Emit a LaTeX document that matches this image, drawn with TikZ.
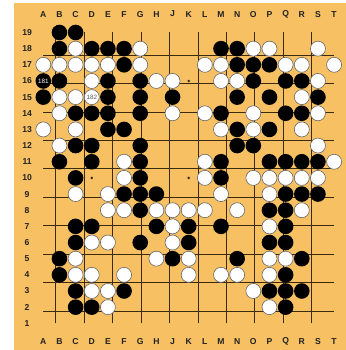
\documentclass[tikz,border=0pt]{standalone}
\usepackage{fontspec}
\setmainfont{Liberation Sans}
\usepackage{tikz}

\definecolor{boardcolor}{HTML}{F6C063}
\definecolor{gridcolor}{HTML}{3A2A12}
\definecolor{labelcolor}{HTML}{222222}

\tikzset{
  blackstone/.style={circle,fill=black,inner sep=0pt,minimum size=15.6pt},
  whitestone/.style={circle,fill=white,draw=gray!80!black,line width=0.6pt,inner sep=0pt,minimum size=15pt},
  boardlabel/.style={text=labelcolor,font=\fontsize{8.6}{9}\selectfont\bfseries},
  movelabel/.style={font=\fontsize{6.3}{7}\selectfont}
}

\begin{document}
\begin{tikzpicture}[x=16.16pt,y=16.16pt]

% Fix the picture size
\useasboundingbox (-1.6795,-0.652) rectangle (19.732,21.011);

% Draw the board
\fill[boardcolor] (-0.813,-0.652) rectangle (19.732,20.807);

% Name the points and label the edges
\foreach \l [count=\i] in {A,B,C,D,E,F,G,H,J,K,L,M,N,O,P,Q,R,S,T} {
  \foreach \r in {1,...,19} \coordinate (\l\r) at (\i,\r);
  \node[boardlabel] (top\l) at (\i,20.14) {\l};
  \node[boardlabel] (bot\l) at (\i,-0.14) {\l};
}
\foreach \r in {1,...,19} \node[boardlabel] (row\r) at (0,\r) {\r};

% Draw the grid
\draw[gridcolor,line width=0.6pt] (1,1) grid (19,19);

% Star points
\foreach \p in {D4,K4,Q4,D10,K10,Q10,D16,K16,Q16} \fill[gridcolor] (\p) circle (1.4pt);

% Black stones
\foreach \p in {B19,C19,
  B18,D18,E18,F18,M18,N18,
  F17,N17,O17,P17,
  A16,B16,E16,G16,O16,Q16,R16,
  A15,E15,G15,J15,N15,P15,S15,
  C14,D14,E14,G14,M14,Q14,R14,
  E13,F13,N13,P13,
  C12,D12,G12,N12,O12,
  B11,D11,G11,M11,P11,Q11,R11,S11,
  C10,G10,M10,
  F9,G9,H9,Q9,R9,S9,
  G8,P8,Q8,
  C7,D7,H7,K7,M7,Q7,
  C6,G6,K6,P6,Q6,
  B5,J5,N5,R5,
  B4,Q4,
  C3,F3,P3,Q3,R3,
  C2,D2,Q2}
  \node[blackstone] (s\p) at (\p) {};

% White stones
\foreach \p in {C18,G18,O18,P18,S18,
  A17,B17,C17,D17,E17,G17,L17,M17,Q17,R17,T17,
  D16,H16,J16,M16,N16,S16,
  B15,C15,D15,R15,
  B14,J14,L14,O14,S14,
  A13,C13,M13,O13,R13,
  B12,S12,
  F11,L11,T11,
  F10,L10,O10,P10,Q10,R10,S10,
  C9,E9,M9,P9,
  E8,F8,H8,J8,K8,L8,N8,R8,
  J7,P7,
  D6,E6,J6,
  C5,H5,K5,P5,Q5,
  C4,D4,F4,K4,M4,N4,P4,
  D3,E3,O3,
  E2,P2}
  \node[whitestone] (s\p) at (\p) {};

% Move numbers
\node[movelabel,text=white] (m181) at (sA16) {181};
\node[movelabel,text=black!65] (m182) at (sD15) {182};

\end{tikzpicture}
\end{document}
